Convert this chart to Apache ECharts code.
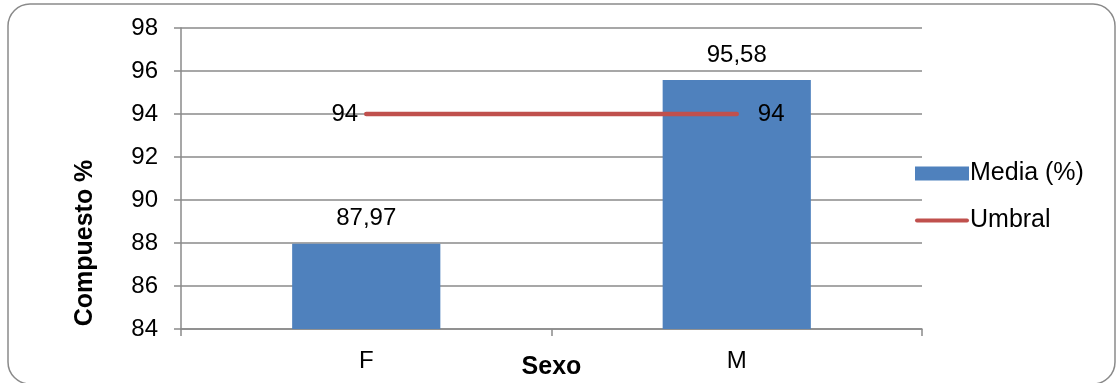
<!DOCTYPE html>
<html>
<head>
<meta charset="utf-8">
<style>
  html, body { margin: 0; padding: 0; background: #fff; }
  #chart { width: 1117px; height: 383px; }
</style>
<script src="https://cdn.jsdelivr.net/npm/echarts@6/dist/echarts.min.js"></script>
</head>
<body>
<div id="chart"></div>
<script>
// Composite score by sex, with the threshold line
const categories = ['F', 'M'];
const mediaValues = [87.97, 95.58];
const umbralValues = [94, 94];
const yTicks = { min: 84, max: 98, interval: 2 };

const FONT = '"Liberation Sans", Arial, sans-serif';
const fmtComma = v => String(v).replace('.', ',');

const chart = echarts.init(document.getElementById('chart'), null, { renderer: 'canvas' });

chart.setOption({
  animation: false,
  textStyle: { fontFamily: FONT, color: '#000' },
  grid: { left: 181, right: 195, top: 28, bottom: 54, containLabel: false, outerBoundsMode: 'none' },
  graphic: [
    {
      type: 'rect',
      shape: { x: 8, y: 4, width: 1107, height: 380, r: 22 },
      style: { fill: 'none', stroke: '#8a8a8a', lineWidth: 1.5 },
      silent: true, z: -10
    },
    {
      type: 'text',
      x: 85, y: 243,
      rotation: Math.PI / 2,
      style: {
        text: 'Compuesto %', fontFamily: FONT, fontSize: 25, fontWeight: 'bold',
        fill: '#000', align: 'center', verticalAlign: 'middle'
      }
    }
  ],
  legend: {
    orient: 'vertical',
    left: 910, top: 156,
    itemWidth: 54, itemHeight: 14, itemGap: 22,
    textStyle: { fontFamily: FONT, fontSize: 25, color: '#000', padding: [0, 0, 0, -4] },
    data: [
      { name: 'Media (%)', icon: 'rect' },
      {
        name: 'Umbral',
        icon: 'path://M2,0 H52 A2,2 0 0 1 52,4 H2 A2,2 0 0 1 2,0 Z',
        itemStyle: { color: '#C0504D', opacity: 1 }
      }
    ]
  },
  xAxis: {
    type: 'category',
    data: categories,
    name: 'Sexo',
    nameLocation: 'middle',
    nameGap: 26,
    nameMoveOverlap: false,
    nameTextStyle: { fontFamily: FONT, fontSize: 25, fontWeight: 'bold', color: '#000' },
    axisLine: { lineStyle: { color: '#8a8a8a', width: 1.5 } },
    axisTick: { show: true, length: 7, lineStyle: { color: '#8a8a8a', width: 1.5 } },
    axisLabel: { fontFamily: FONT, fontSize: 24, color: '#000', margin: 20 }
  },
  yAxis: {
    type: 'value',
    min: yTicks.min, max: yTicks.max, interval: yTicks.interval,
    axisLine: { show: true, lineStyle: { color: '#8a8a8a', width: 1.5 } },
    axisTick: { show: true, length: 7, lineStyle: { color: '#8a8a8a', width: 1.5 } },
    axisLabel: { fontFamily: FONT, fontSize: 24, color: '#000', margin: 23 },
    splitLine: { show: true, lineStyle: { color: '#8a8a8a', width: 1.5 } }
  },
  series: [
    {
      name: 'Media (%)',
      type: 'bar',
      data: mediaValues,
      barWidth: '40%',
      itemStyle: { color: '#4F81BD' },
      label: {
        show: true, position: 'top', distance: 13,
        fontFamily: FONT, fontSize: 24, color: '#000',
        formatter: p => fmtComma(p.value)
      },
      z: 2
    },
    {
      name: 'Umbral',
      type: 'line',
      data: umbralValues.map((v, i) => ({
        value: v,
        label: i === 0
          ? { position: 'left', distance: 8 }
          : { position: 'right', distance: 21 }
      })),
      symbol: 'circle',
      symbolSize: 0.1,
      showSymbol: true,
      lineStyle: { color: '#C0504D', width: 4.5, cap: 'round' },
      itemStyle: { color: '#C0504D' },
      label: {
        show: true, fontFamily: FONT, fontSize: 24, color: '#000',
        formatter: p => fmtComma(p.value)
      },
      z: 3
    }
  ]
});
</script>
</body>
</html>
